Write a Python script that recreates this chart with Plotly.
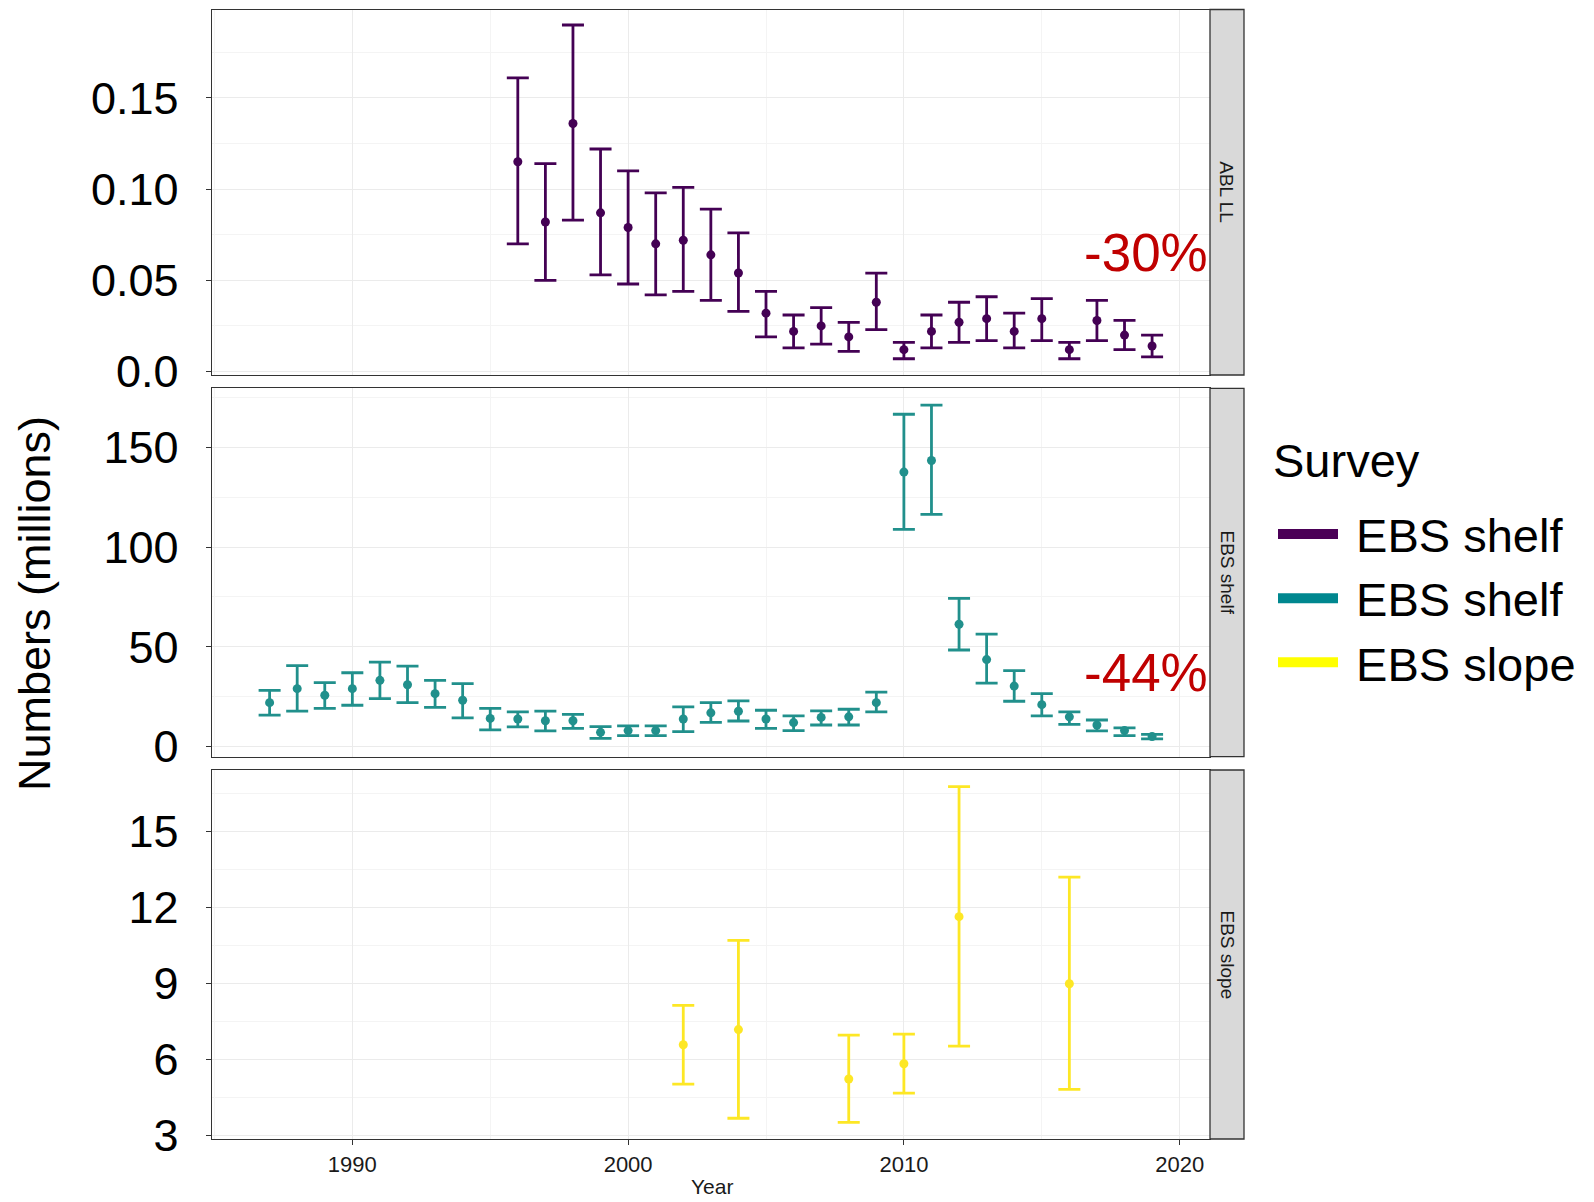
import plotly.graph_objects as go

# ---------------- data ----------------
abl_years = list(range(1996, 2020))
abl_mean = [0.115, 0.082, 0.136, 0.087, 0.079, 0.070, 0.072, 0.064, 0.054, 0.032, 0.022, 0.025,
            0.019, 0.038, 0.012, 0.022, 0.027, 0.029, 0.022, 0.029, 0.012, 0.028, 0.020, 0.014]
abl_upper = [0.161, 0.114, 0.190, 0.122, 0.110, 0.098, 0.101, 0.089, 0.076, 0.044, 0.031, 0.035,
             0.027, 0.054, 0.016, 0.031, 0.038, 0.041, 0.032, 0.040, 0.016, 0.039, 0.028, 0.020]
abl_lower = [0.070, 0.050, 0.083, 0.053, 0.048, 0.042, 0.044, 0.039, 0.033, 0.019, 0.013, 0.015,
             0.011, 0.023, 0.007, 0.013, 0.016, 0.017, 0.013, 0.017, 0.007, 0.017, 0.012, 0.008]

shelf_years = list(range(1987, 2020))
shelf_mean = [22.0, 29.0, 25.7, 29.0, 33.2, 31.0, 26.5, 23.2, 14.1, 13.8, 12.9, 12.9, 7.1, 8.0, 8.0,
              13.8, 16.9, 17.7, 13.8, 12.0, 14.6, 14.9, 22.0, 137.6, 143.4, 61.3, 43.6, 30.3, 21.0,
              14.9, 10.8, 8.0, 5.0]
shelf_upper = [28.2, 40.6, 32.0, 37.0, 42.3, 40.3, 33.2, 31.5, 19.1, 17.4, 17.7, 16.1, 10.0, 10.4, 10.4,
               19.9, 22.0, 22.9, 18.2, 15.4, 17.9, 18.7, 27.3, 166.6, 171.2, 74.3, 56.4, 38.1, 26.5,
               17.4, 13.3, 9.4, 6.1]
shelf_lower = [15.7, 17.7, 19.1, 20.7, 24.0, 22.0, 19.6, 14.4, 8.3, 9.9, 7.8, 9.1, 4.1, 5.5, 5.5,
               7.5, 12.1, 12.8, 9.1, 8.0, 10.8, 10.8, 17.4, 108.9, 116.4, 48.4, 31.8, 22.7, 15.4,
               11.1, 7.8, 5.5, 3.8]

slope_years = [2002, 2004, 2008, 2010, 2012, 2016]
slope_mean = [6.58, 7.18, 5.23, 5.83, 11.64, 8.99]
slope_upper = [8.14, 10.70, 6.96, 7.00, 16.77, 13.20]
slope_lower = [5.03, 3.68, 3.52, 4.67, 6.53, 4.82]

panel_labels = ["ABL LL", "EBS shelf", "EBS slope"]
legend_names = ["EBS shelf", "EBS shelf", "EBS slope"]
change_labels = ["-30%", "-44%"]

x_ticks = [1990, 2000, 2010, 2020]
abl_ticks = [0.0, 0.05, 0.10, 0.15]
abl_ticktext = ["0.0", "0.05", "0.10", "0.15"]
shelf_ticks = [0, 50, 100, 150]
slope_ticks = [3, 6, 9, 12, 15]

# ---------------- style / page geometry ----------------
PAGE_W, PAGE_H = 1594, 1202
BODY = 8  # default body margin of the html page
W, H = PAGE_W - 2 * BODY, PAGE_H - BODY
FONT = "Liberation Sans, Arial, sans-serif"
point_colors = ["#440154", "#21908C", "#FDE725"]
legend_colors = ["#4B0057", "#00878F", "#FFFF00"]


def px(x):
    return min(1.0, max(0.0, (x - BODY) / W))


def py(y):
    return min(1.0, max(0.0, 1 - (y - BODY) / H))


X0, X1 = px(211.7), px(1210)
SX0, SX1 = px(1210), px(1244)
panel_px = [(9.5, 375.0), (388.3, 756.7), (770.0, 1139.0)]
domains = [[py(b), py(t)] for t, b in panel_px]

fig = go.Figure()

series = [
    (abl_years, abl_mean, abl_upper, abl_lower),
    (shelf_years, shelf_mean, shelf_upper, shelf_lower),
    (slope_years, slope_mean, slope_upper, slope_lower),
]

for i, (yrs, m, up, lo) in enumerate(series):
    sfx = "" if i == 0 else str(i + 1)
    fig.add_trace(go.Scatter(
        x=yrs, y=m, mode="markers",
        marker=dict(color=point_colors[i], size=9),
        error_y=dict(type="data", symmetric=False,
                     array=[u - v for u, v in zip(up, m)],
                     arrayminus=[v - l for v, l in zip(m, lo)],
                     color=point_colors[i], thickness=2.8, width=11),
        xaxis="x" + sfx, yaxis="y" + sfx, showlegend=False,
    ))

# legend-only traces
for name, col in zip(legend_names, legend_colors):
    fig.add_trace(go.Scatter(x=[None], y=[None], mode="lines", name="\u00a0" + name,
                             line=dict(color=col, width=10), showlegend=True,
                             xaxis="x3", yaxis="y3"))

grid_major = "#EBEBEB"
grid_minor = "#F4F4F4"
line_col = "#333333"

xaxis_common = dict(
    range=[1984.9, 2021.1], domain=[X0, X1], automargin=False,
    tickvals=x_ticks, showgrid=True, gridcolor=grid_major, gridwidth=1.2,
    minor=dict(dtick=5, tick0=1985, showgrid=True, gridcolor=grid_minor, gridwidth=0.6),
    showline=True, linecolor=line_col, linewidth=1.3, mirror=True, zeroline=False,
)

y_specs = [
    dict(range=[-0.0019, 0.1985], tickvals=abl_ticks, ticktext=abl_ticktext, minor_dtick=0.025, minor_tick0=0),
    dict(range=[-5.1, 179.6], tickvals=shelf_ticks, ticktext=[str(v) for v in shelf_ticks], minor_dtick=25, minor_tick0=0),
    dict(range=[2.86, 17.43], tickvals=slope_ticks, ticktext=[str(v) for v in slope_ticks], minor_dtick=1.5, minor_tick0=0),
]

layout = dict(
    width=W, height=H, margin=dict(l=0, r=0, t=0, b=0, pad=0, autoexpand=False),
    paper_bgcolor="white", plot_bgcolor="white",
    font=dict(family=FONT, color="black"),
    legend=dict(x=px(1273), y=py(497), xanchor="left", yanchor="top",
                font=dict(size=47, family=FONT, color="black"),
                bgcolor="rgba(0,0,0,0)", itemwidth=60, tracegroupgap=0),
)

for i in range(3):
    sfx = "" if i == 0 else str(i + 1)
    xa = dict(xaxis_common)
    xa["anchor"] = "y" + sfx
    if i < 2:
        xa.update(showticklabels=False, ticks="")
        xa["matches"] = "x3"
    else:
        xa.update(showticklabels=True, ticks="outside", ticklen=5, tickwidth=1.3, tickcolor=line_col,
                  tickfont=dict(size=22, family=FONT, color="#1A1A1A"))
    layout["xaxis" + sfx] = xa
    s = y_specs[i]
    layout["yaxis" + sfx] = dict(
        range=s["range"], domain=domains[i], anchor="x" + sfx, automargin=False,
        tickvals=s["tickvals"], ticktext=s["ticktext"],
        tickfont=dict(size=45, family=FONT, color="black"),
        ticks="outside", ticklen=5, tickwidth=1.3, tickcolor=line_col,
        ticklabelstandoff=18,
        showgrid=True, gridcolor=grid_major, gridwidth=1.2,
        minor=dict(dtick=s["minor_dtick"], tick0=s["minor_tick0"], showgrid=True,
                   gridcolor=grid_minor, gridwidth=0.6),
        showline=True, linecolor=line_col, linewidth=1.3, mirror=True, zeroline=False,
    )

fig.update_layout(**layout)

# facet strips
for i, lab in enumerate(panel_labels):
    d0, d1 = domains[i]
    fig.add_shape(type="rect", xref="paper", yref="paper", x0=SX0, x1=SX1, y0=d0, y1=d1,
                  fillcolor="#D9D9D9", line=dict(color=line_col, width=1.3), layer="above")
    fig.add_annotation(x=(SX0 + SX1) / 2, y=(d0 + d1) / 2, xref="paper", yref="paper",
                       xanchor="center", yanchor="middle",
                       text=lab, textangle=90, showarrow=False,
                       font=dict(size=19, family=FONT, color="#1A1A1A"))

# percent-change labels
for lab, ypx in zip(change_labels, [253, 672]):
    fig.add_annotation(x=px(1146), y=py(ypx), xref="paper", yref="paper", text=lab,
                       xanchor="center", yanchor="middle",
                       showarrow=False, font=dict(size=53, family=FONT, color="#C00000"))

# legend title
fig.add_annotation(x=px(1271), y=py(460), xref="paper", yref="paper", text="Survey",
                   xanchor="left", yanchor="middle", showarrow=False,
                   font=dict(size=47, family=FONT, color="black"))

# axis titles
fig.add_annotation(x=px(34), y=py(604), xref="paper", yref="paper", text="Numbers (millions)",
                   xanchor="center", yanchor="middle",
                   textangle=-90, showarrow=False, font=dict(size=45, family=FONT, color="black"))
fig.add_annotation(x=px(712), y=py(1186), xref="paper", yref="paper", text="Year",
                   xanchor="center", yanchor="middle",
                   showarrow=False, font=dict(size=21, family=FONT, color="#1A1A1A"))

fig.write_html("out.html")
